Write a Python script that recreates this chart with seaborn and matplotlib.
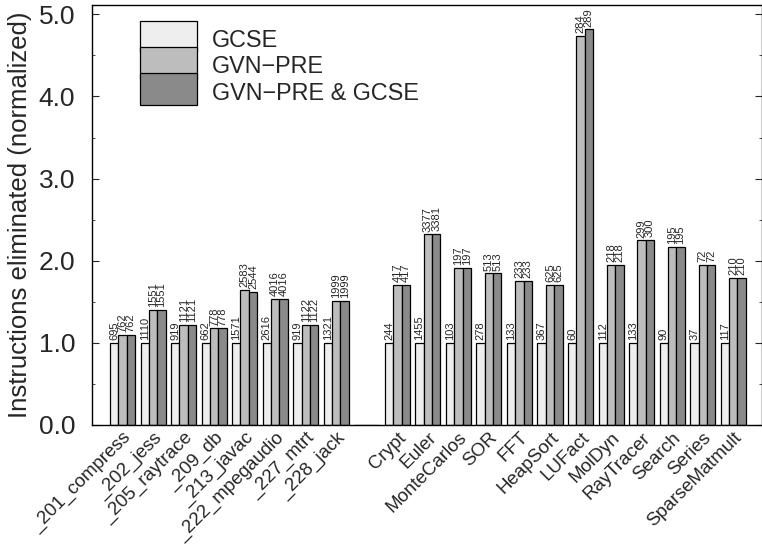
import numpy as np
import pandas as pd
import matplotlib
matplotlib.use("Agg")
import matplotlib.pyplot as plt
from matplotlib.ticker import MultipleLocator, FormatStrFormatter
from matplotlib.legend_handler import HandlerPatch
from matplotlib.patches import Rectangle
import seaborn as sns

benchmarks = ["_201_compress", "_202_jess", "_205_raytrace", "_209_db", "_213_javac",
              "_222_mpegaudio", "_227_mtrt", "_228_jack", " ",
              "Crypt", "Euler", "MonteCarlos", "SOR", "FFT", "HeapSort", "LUFact",
              "MolDyn", "RayTracer", "Search", "Series", "SparseMatmult"]
configs = ["GCSE", "GVN\u2212PRE", "GVN\u2212PRE & GCSE"]
# instruction counts eliminated (printed above bars); blank spacer = 0
gcse_counts = [695, 1110, 919, 662, 1571, 2616, 919, 1321, 0,
               244, 1455, 103, 278, 133, 367, 60, 112, 133, 90, 37, 117]
gvnpre_counts = [762, 1551, 1121, 778, 2583, 4016, 1122, 1999, 0,
                 417, 3377, 197, 513, 233, 625, 284, 218, 299, 195, 72, 210]
both_counts = [762, 1551, 1121, 778, 2544, 4016, 1122, 1999, 0,
               417, 3381, 197, 513, 233, 625, 289, 218, 300, 195, 72, 210]
colors = ["#eeeeee", "#bdbdbd", "#8a8a8a"]

counts = [gcse_counts, gvnpre_counts, both_counts]
base = np.array(gcse_counts, dtype=float)
rows = []
for cfg, cnt in zip(configs, counts):
    c = np.array(cnt, dtype=float)
    norm = np.divide(c, base, out=np.zeros_like(c), where=base > 0)
    for b, v in zip(benchmarks, norm):
        rows.append({"benchmark": b, "config": cfg, "value": v})
df = pd.DataFrame(rows)

sns.set_style("ticks")
plt.rcParams["font.family"] = ["Liberation Sans", "DejaVu Sans"]

fig = plt.figure(figsize=(7.62, 5.48), dpi=100)
ax = fig.add_axes([92 / 762, 1 - 425 / 548, 1 - 92 / 762 - 0.0005, (425 - 5.3) / 548])

sns.barplot(data=df, x="benchmark", y="value", hue="config", order=benchmarks,
            hue_order=configs, palette=colors, edgecolor="black", linewidth=0.9,
            width=0.82, gap=0, dodge=True, ax=ax, errorbar=None, saturation=1)

for cont, cnt in zip(ax.containers, counts):
    labels = [str(v) if v > 0 else "" for v in cnt]
    texts = ax.bar_label(cont, labels=labels, rotation=90, fontsize=8, padding=2)
    for t in texts:
        t.set_clip_on(True)

ax.set_xlim(-1.0, 20.93)
ax.set_ylim(0, 5.11)
ax.yaxis.set_major_locator(MultipleLocator(1.0))
ax.yaxis.set_minor_locator(MultipleLocator(0.5))
ax.yaxis.set_major_formatter(FormatStrFormatter("%.1f"))
ax.tick_params(axis="y", which="both", direction="in", left=True, right=True,
               labelsize=19, pad=12)
ax.tick_params(axis="y", which="major", length=5)
ax.tick_params(axis="y", which="minor", length=2.5)
ax.tick_params(axis="x", length=0, labelsize=13.5, pad=3)
plt.setp(ax.get_xticklabels(), rotation=45, ha="right", va="top", rotation_mode="anchor")
ax.set_xlabel("")
ax.set_ylabel("Instructions eliminated (normalized)", fontsize=18.5, labelpad=5)
for s in ax.spines.values():
    s.set_visible(True)
    s.set_color("black")
    s.set_linewidth(1)


def full_box(legend, orig_handle, xdescent, ydescent, width, height, fontsize):
    return Rectangle((-xdescent, -ydescent), width, height + ydescent)


handles, labs = ax.get_legend_handles_labels()
ax.legend(handles, labs, loc="upper left", bbox_to_anchor=(140 / 762, 1 - 26 / 548),
          bbox_transform=fig.transFigure, frameon=False, fontsize=16.8,
          handlelength=2.45, handleheight=1.36, labelspacing=0, handletextpad=0.65,
          borderpad=0, borderaxespad=0,
          handler_map={h: HandlerPatch(patch_func=full_box) for h in handles})

fig.savefig("out.png", dpi=100)
